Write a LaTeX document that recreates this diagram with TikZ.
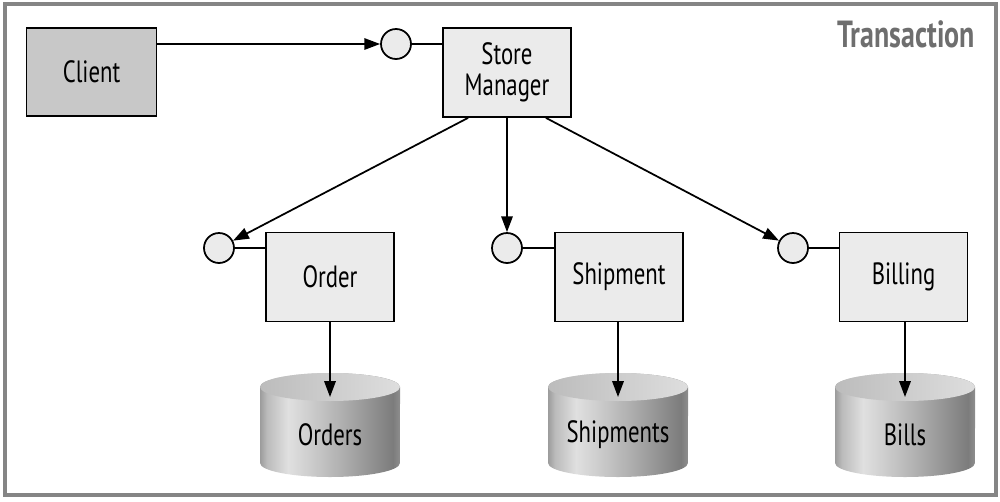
\documentclass[tikz,border=0pt]{standalone}
\usepackage{fontspec}
\setmainfont[FakeStretch=0.74]{PT Sans}
\usetikzlibrary{arrows.meta,calc}
\definecolor{boxfill}{HTML}{EBEBEB}
\definecolor{clientfill}{HTML}{C8C8C8}
\definecolor{bordercol}{HTML}{858585}
\definecolor{titlecol}{HTML}{6E6E6E}
\definecolor{cA}{HTML}{9C9C9C}
\definecolor{cB}{HTML}{BBBBBB}
\definecolor{cC}{HTML}{E0E0E0}
\definecolor{cD}{HTML}{CECECE}
\definecolor{cE}{HTML}{ADADAD}
\definecolor{cF}{HTML}{8A8A8A}
\definecolor{cG}{HTML}{7C7C7C}
\definecolor{cH}{HTML}{8E8E8E}
\definecolor{tA}{HTML}{BCBCBC}
\definecolor{tB}{HTML}{D0D0D0}
\definecolor{tC}{HTML}{DEDEDE}
\pgfdeclarehorizontalshading{cylbody}{100bp}{color(0bp)=(cA); color(25bp)=(cA); color(27.5bp)=(cB); color(35bp)=(cC); color(42.5bp)=(cD); color(55bp)=(cE); color(67.5bp)=(cF); color(72.5bp)=(cG); color(75bp)=(cH); color(100bp)=(cH)}
\pgfdeclarehorizontalshading{cyltop}{100bp}{color(0bp)=(tA); color(25bp)=(tA); color(55bp)=(tB); color(75bp)=(tC); color(100bp)=(tC)}
\tikzset{
  box/.style={draw, line width=1pt, fill=boxfill, minimum width=2.56cm, minimum height=1.78cm, inner sep=0pt, align=center, font=\fontsize{17.5}{17.6}\selectfont},
  port/.style={draw, line width=1pt, fill=boxfill, circle, minimum size=0.6cm, inner sep=0pt},
  arr/.style={line width=1pt, -{Triangle[length=9pt,width=6.5pt]}},
  plain/.style={line width=1pt},
  cyltext/.style={font=\fontsize{17.5}{17.6}\selectfont, inner sep=1pt}
}
\newcommand{\mycyl}[3]{%
  \shade[shading=cylbody] (#2-70,387) -- (#2-70,463) arc[start angle=180, end angle=360, x radius=1.4cm, y radius=0.28cm] -- (#2+70,387) arc[start angle=0, end angle=180, x radius=1.4cm, y radius=0.28cm] -- cycle;
  \shade[shading=cyltop] (#2,387) ellipse [x radius=1.4cm, y radius=0.28cm];
  \node[cyltext] (#1) at (#2,435) {#3};
  \coordinate (#1-top) at (#2,397);
}
\begin{document}
\begin{tikzpicture}[x=0.02cm,y=-0.02cm]
\useasboundingbox (0,0) rectangle (1000,501);
\draw[bordercol, line width=0.08cm] (5,4) rectangle (996,495);
\node[anchor=east, text=titlecol, font=\bfseries\fontsize{21.5}{24}\selectfont] (title) at (981,34) {Transaction};
% boxes
\node[box, fill=clientfill, minimum width=2.6cm, minimum height=1.76cm] (client) at (91.5,72) {Client};
\node[box] (sm) at (507,72.5) {Store\\Manager};
\node[box] (order) at (330,277) {Order};
\node[box] (ship) at (619,277) {Shipment};
\node[box] (bill) at (903.5,277) {Billing};
% ports
\node[port] (p1) at (396,44) {};
\node[port] (pO) at (219,248) {};
\node[port] (pS) at (507,248) {};
\node[port] (pB) at (793,248) {};
% cylinders
\mycyl{orders}{330}{Orders}
\mycyl{shipments}{618}{Shipments}
\mycyl{bills}{905}{Bills}
% connectors
\draw[arr] (client.east |- p1.west) -- (p1.west);
\draw[plain] (p1.east) -- (p1.east -| sm.west);
\draw[arr] ($(sm.south west)!0.2!(sm.south east)$) -- (pO);
\draw[arr] (sm.south) -- (pS.north);
\draw[arr] ($(sm.south west)!0.8!(sm.south east)$) -- (pB);
\draw[plain] (pO.east) -- (pO.east -| order.west);
\draw[plain] (pS.east) -- (pS.east -| ship.west);
\draw[plain] (pB.east) -- (pB.east -| bill.west);
\draw[arr] (order.south) -- (orders-top);
\draw[arr] (ship.south -| shipments-top) -- (shipments-top);
\draw[arr] (bill.south -| bills-top) -- (bills-top);
\end{tikzpicture}
\end{document}
